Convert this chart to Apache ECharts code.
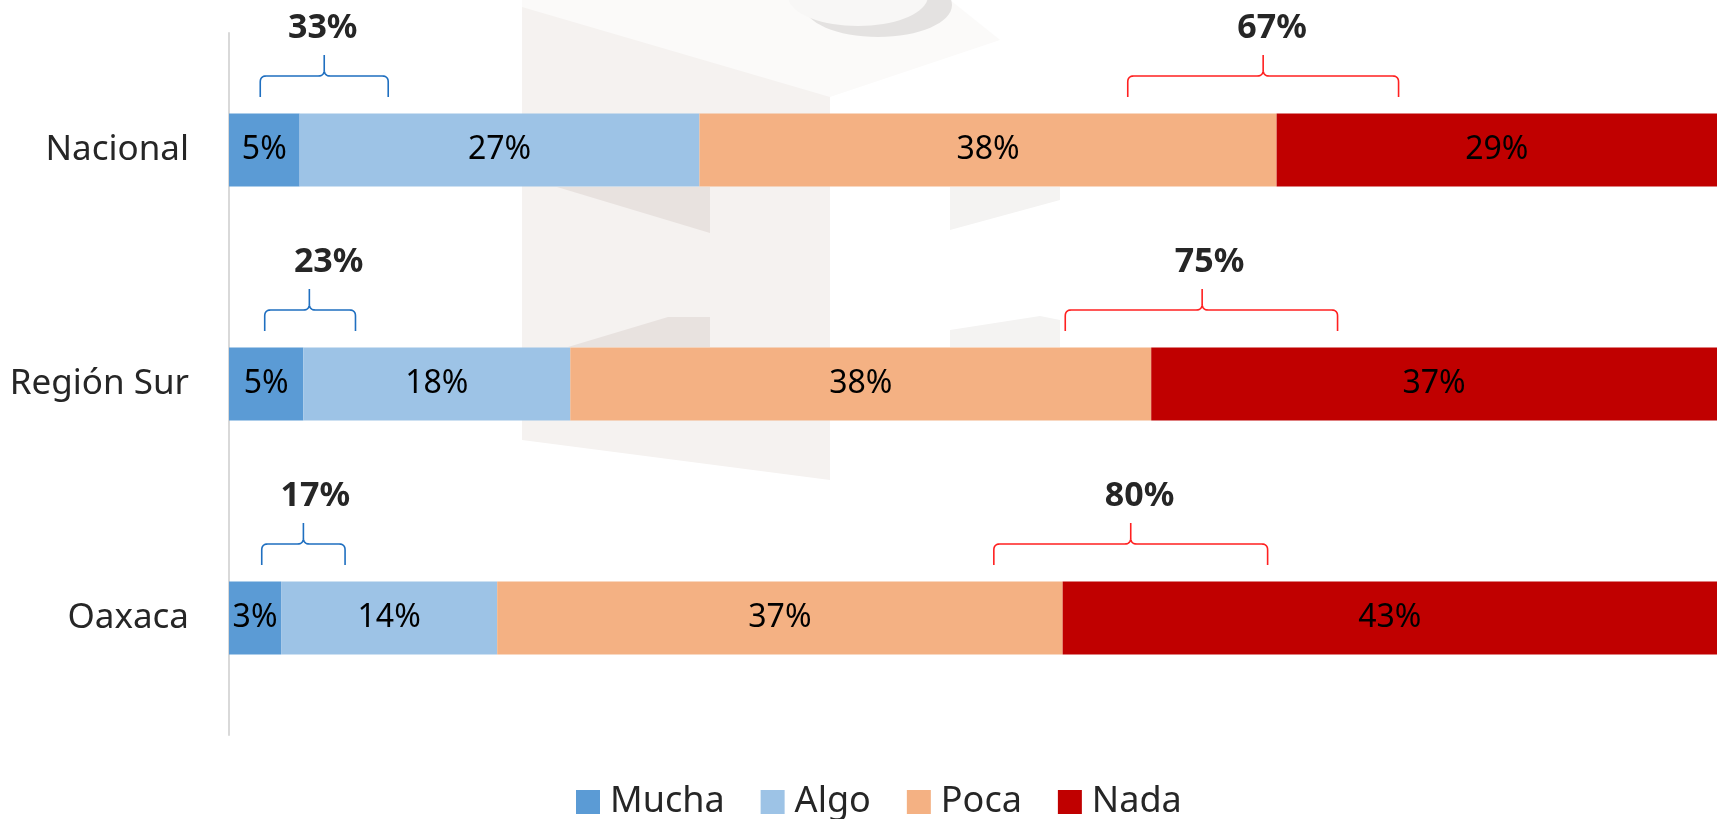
<!DOCTYPE html>
<html>
<head>
<meta charset="utf-8">
<script src="https://cdn.jsdelivr.net/npm/echarts@6/dist/echarts.min.js"></script>
<style>
  html, body { margin: 0; padding: 0; background: #fff; }
  #chart { width: 1719px; height: 819px; }
</style>
</head>
<body>
<div id="chart"></div>
<script>
// datos estimados del grafico (porcentajes, se muestran redondeados)
var categories = ["Nacional", "Región Sur", "Oaxaca"];
var seriesNames = ["Mucha", "Algo", "Poca", "Nada"];
var mucha = [4.7, 4.9, 3.4];
var algo = [26.6, 17.6, 14.1];
var poca = [38.4, 38.3, 36.9];
var nada = [29.3, 37.3, 42.7];
var totalMuchaAlgo = [33, 23, 17];
var totalPocaNada = [67, 75, 80];
// llaves: [inicio, fin, pico, x de la etiqueta] en unidades del eje (0-100)
var bracesBlue = [[2.1, 10.7, 6.4, 6.3], [2.4, 8.5, 5.4, 6.7], [2.2, 7.8, 5.0, 5.8]];
var bracesRed = [[60.4, 78.6, 69.5, 70.1], [56.2, 74.5, 65.4, 65.9], [51.4, 69.8, 60.6, 61.2]];

var FONT = "Noto Sans";
var chart = echarts.init(document.getElementById("chart"));

// grafico 100% apilado: cada fila se reparte sobre su total
function share(arr) {
  return arr.map(function (v, i) {
    var t = mucha[i] + algo[i] + poca[i] + nada[i];
    return v / t * 100;
  });
}

function barSeries(name, raw, color) {
  return {
    name: name,
    type: "bar",
    stack: "total",
    barWidth: 73,
    data: share(raw),
    itemStyle: { color: color },
    label: {
      show: true,
      position: "inside",
      color: "#000",
      fontFamily: FONT,
      fontSize: 32,
      formatter: function (p) { return Math.round(raw[p.dataIndex]) + "%"; }
    },
    z: 3
  };
}

function quad(pts, p0, c, p1) {
  for (var k = 1; k <= 8; k++) {
    var t = k / 8, u = 1 - t;
    pts.push([u * u * p0[0] + 2 * u * t * c[0] + t * t * p1[0],
              u * u * p0[1] + 2 * u * t * c[1] + t * t * p1[1]]);
  }
}

function braceSeries(list, totals, color) {
  var rows = list.map(function (b, i) { return [i, b[0], b[1], b[2], b[3], totals[i]]; });
  return {
    type: "custom",
    data: rows,
    encode: { x: [1, 2, 3, 4], y: 0 },
    clip: false,
    silent: true,
    z: 5,
    renderItem: function (params, api) {
      var idx = api.value(0);
      var cy = api.coord([0, idx])[1];
      var x1 = api.coord([api.value(1), idx])[0];
      var x2 = api.coord([api.value(2), idx])[0];
      var xt = api.coord([api.value(3), idx])[0];
      var xl = api.coord([api.value(4), idx])[0];
      var yb = cy - 53, yh = cy - 74, yt = cy - 95, r = 6;
      var pts = [[x1, yb], [x1, yh + r]];
      quad(pts, [x1, yh + r], [x1, yh], [x1 + r, yh]);
      pts.push([xt - r, yh]);
      quad(pts, [xt - r, yh], [xt, yh], [xt, yh - r]);
      pts.push([xt, yt], [xt, yh - r]);
      quad(pts, [xt, yh - r], [xt, yh], [xt + r, yh]);
      pts.push([x2 - r, yh]);
      quad(pts, [x2 - r, yh], [x2, yh], [x2, yh + r]);
      pts.push([x2, yb]);
      return {
        type: "group",
        children: [
          { type: "polyline", shape: { points: pts }, style: { stroke: color, lineWidth: 1.6, fill: null } },
          {
            type: "text",
            style: {
              text: api.value(5) + "%",
              x: xl, y: cy - 122,
              align: "center", verticalAlign: "middle",
              font: "bold 34px '" + FONT + "'",
              fill: "#262626"
            }
          }
        ]
      };
    }
  };
}

var option = {
  backgroundColor: "#fff",
  animation: false,
  // marca de agua tenue del fondo
  graphic: [
    { type: "polygon", silent: true, z: -10, shape: { points: [[522, 0], [830, 0], [830, 480], [522, 440]] }, style: { fill: "#f5f2f0" } },
    { type: "polygon", silent: true, z: -9, shape: { points: [[522, 0], [950, 0], [1000, 40], [830, 97], [522, 7]] }, style: { fill: "#fbfaf9" } },
    { type: "ellipse", silent: true, z: -8, shape: { cx: 878, cy: 5, rx: 74, ry: 32 }, style: { fill: "#e4e2e1" } },
    { type: "ellipse", silent: true, z: -7, shape: { cx: 858, cy: -4, rx: 70, ry: 30 }, style: { fill: "#f8f7f6" } },
    { type: "polygon", silent: true, z: -8, shape: { points: [[557, 187], [710, 187], [710, 233]] }, style: { fill: "#e8e2df" } },
    { type: "polygon", silent: true, z: -8, shape: { points: [[568, 347], [668, 317], [710, 317], [710, 347]] }, style: { fill: "#e8e2df" } },
    { type: "polygon", silent: true, z: -8, shape: { points: [[950, 187], [1060, 187], [1060, 200], [950, 230]] }, style: { fill: "#f4f3f2" } },
    { type: "polygon", silent: true, z: -8, shape: { points: [[950, 330], [1040, 316], [1060, 320], [1060, 347], [950, 347]] }, style: { fill: "#f4f3f2" } }
  ],
  legend: {
    data: seriesNames,
    left: 571,
    top: 779,
    itemWidth: 24,
    itemHeight: 24,
    itemGap: 36,
    icon: "rect",
    textStyle: { fontFamily: FONT, fontSize: 36, color: "#262626", padding: [0, 0, 0, 5] }
  },
  grid: { left: 229, right: 2, top: 33, bottom: 84, containLabel: false },
  xAxis: {
    type: "value",
    min: 0,
    max: 100,
    show: false
  },
  yAxis: {
    type: "category",
    data: categories,
    inverse: true,
    axisTick: { show: false },
    axisLine: { show: true, lineStyle: { color: "#d9d9d9", width: 2 } },
    axisLabel: { margin: 40, fontFamily: FONT, fontSize: 35, color: "#262626" }
  },
  series: [
    barSeries(seriesNames[0], mucha, "#5b9bd5"),
    barSeries(seriesNames[1], algo, "#9dc3e6"),
    barSeries(seriesNames[2], poca, "#f4b183"),
    barSeries(seriesNames[3], nada, "#c00000"),
    braceSeries(bracesBlue, totalMuchaAlgo, "#1f6fc0"),
    braceSeries(bracesRed, totalPocaNada, "#ff2020")
  ]
};

chart.setOption(option);
</script>
</body>
</html>
